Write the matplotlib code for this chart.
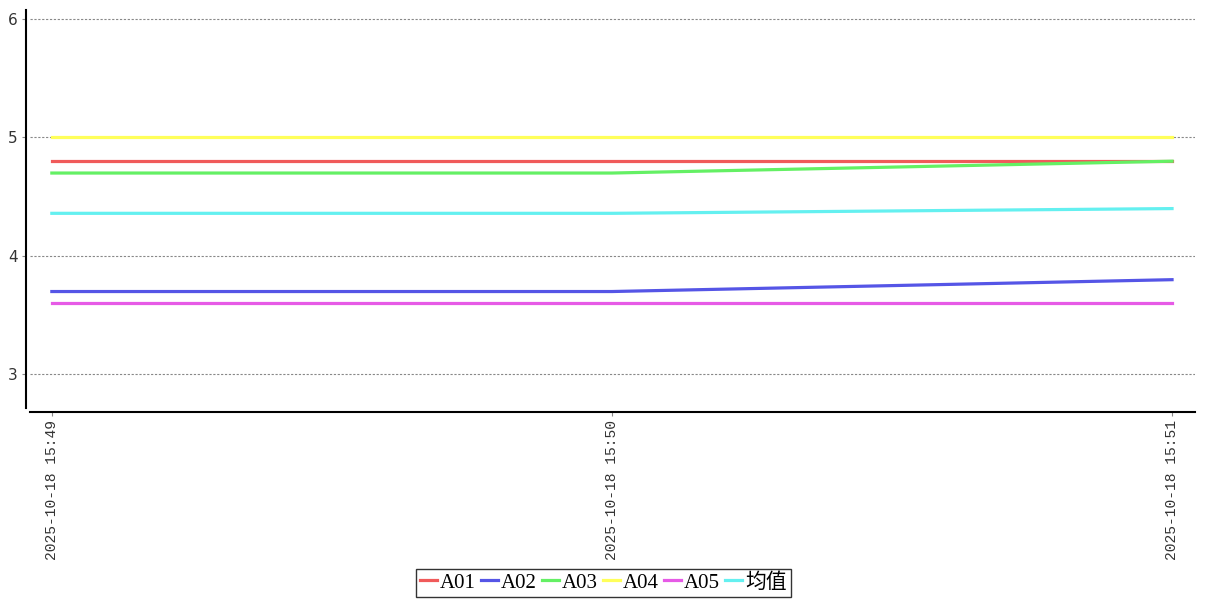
import matplotlib.pyplot as plt

times = ["2025-10-18 15:49", "2025-10-18 15:50", "2025-10-18 15:51"]
names = ["A01", "A02", "A03", "A04", "A05", "均值"]
a01 = [4.8, 4.8, 4.8]
a02 = [3.7, 3.7, 3.8]
a03 = [4.7, 4.7, 4.8]
a04 = [5.0, 5.0, 5.0]
a05 = [3.6, 3.6, 3.6]
avg = [4.36, 4.36, 4.4]
colors = ["#f05a5a", "#5555e6", "#64f064", "#ffff5a", "#e65ae6", "#64f0f0"]

fig = plt.figure(figsize=(12.07, 6.0), dpi=100)
ax = fig.add_axes([30 / 1207, 1 - 408 / 600, (1195 - 30) / 1207, (408 - 10) / 600])

x = list(range(len(times)))
for s, name, c in zip([a01, a02, a03, a04, a05, avg], names, colors):
    ax.plot(x, s, color=c, linewidth=2.3, label=name)

ax.set_xlim(-0.039, 2.041)
ax.set_ylim(2.717, 6.076)
ax.set_yticks([3, 4, 5, 6])
ax.set_xticks(x, times)
ax.tick_params(axis="both", length=3, width=0.8, color="#888888", pad=3, labelcolor="#333333")
ax.tick_params(axis="x", labelrotation=90, labelsize=10.5, labelfontfamily="Liberation Mono")
ax.tick_params(axis="y", labelsize=11)

ax.grid(axis="y", color="#888888", linestyle=(0, (2, 1.5)), linewidth=0.8)
ax.set_axisbelow(True)
ax.spines["top"].set_visible(False)
ax.spines["right"].set_visible(False)
ax.spines["left"].set_position(("outward", 3))
ax.spines["bottom"].set_position(("outward", 3))
ax.spines["left"].set_linewidth(1.5)
ax.spines["bottom"].set_linewidth(1.5)

leg = fig.legend(loc="lower center", bbox_to_anchor=(0.5, 0.0), ncol=6,
                 prop={"family": ["Liberation Serif", "Noto Sans CJK SC"], "size": 15},
                 frameon=True, fancybox=False, handlelength=0.8, handletextpad=0.15,
                 columnspacing=0.25, borderpad=0.2, borderaxespad=0.15)
leg.get_frame().set_edgecolor("black")
leg.get_frame().set_linewidth(1.0)

fig.savefig("out.png", dpi=100)
